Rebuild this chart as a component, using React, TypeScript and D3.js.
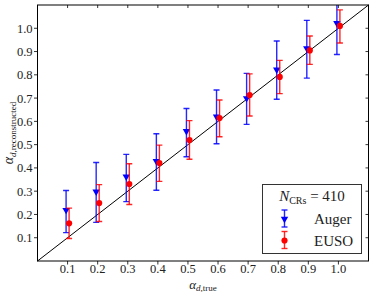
import { scaleLinear, symbol, symbolTriangle, symbolCircle } from "d3"

const W = 374
const H = 292

// alpha_d,true values
const trueAlpha = [0.1, 0.2, 0.3, 0.4, 0.5, 0.6, 0.7, 0.8, 0.9, 1.0]

// Auger reconstruction: central value and error bar ends
const augerMid = [0.219, 0.298, 0.362, 0.429, 0.558, 0.62, 0.699, 0.822, 0.913, 1.022]
const augerLo = [0.122, 0.166, 0.255, 0.304, 0.448, 0.504, 0.587, 0.695, 0.786, 0.887]
const augerHi = [0.303, 0.423, 0.458, 0.547, 0.655, 0.735, 0.806, 0.945, 1.034, 1.16]

// EUSO reconstruction
const eusoMid = [0.162, 0.249, 0.331, 0.421, 0.52, 0.614, 0.713, 0.791, 0.905, 1.01]
const eusoLo = [0.097, 0.17, 0.243, 0.342, 0.437, 0.534, 0.623, 0.719, 0.845, 0.937]
const eusoHi = [0.227, 0.328, 0.418, 0.498, 0.603, 0.692, 0.804, 0.862, 0.967, 1.079]

const tickValues = [0.1, 0.2, 0.3, 0.4, 0.5, 0.6, 0.7, 0.8, 0.9, 1.0]
const nCRs = 410

const FONT = "Liberation Serif, DejaVu Serif, serif"
const BLUE = "#0000ff"
const RED = "#ff0000"

const margin = { left: 37.5, right: 5.5, top: 5, bottom: 31 }

export default function App() {
  const x = scaleLinear().domain([0, 1.1]).range([margin.left, W - margin.right])
  const y = scaleLinear().domain([0, 1.1]).range([H - margin.bottom, margin.top])
  const [x0, x1] = x.range()
  const [y0, y1] = [y(0), y(1.1)]

  const tri = symbol(symbolTriangle, 24)()!
  const dot = symbol(symbolCircle, 30)()!

  const series = [
    { mid: augerMid, lo: augerLo, hi: augerHi, color: BLUE, dx: -0.005, marker: "tri" },
    { mid: eusoMid, lo: eusoLo, hi: eusoHi, color: RED, dx: 0.005, marker: "dot" },
  ]

  const cap = 3
  const txt = { fontFamily: FONT }

  return (
    <svg
      width={W}
      height={H}
      style={{ position: "absolute", left: 0, top: 0, background: "#fff", fontFamily: FONT }}
    >
      <defs>
        <clipPath id="plot">
          <rect x={x0} y={y1} width={x1 - x0} height={y0 - y1} />
        </clipPath>
      </defs>

      {/* diagonal */}
      <line x1={x(0)} y1={y(0)} x2={x(1.1)} y2={y(1.1)} stroke="#000" strokeWidth={1} />

      {/* error bars and markers */}
      <g clipPath="url(#plot)">
        {series.map((s, si) =>
          trueAlpha.map((a, i) => {
            const cx = x(a + s.dx)
            return (
              <g key={`${si}-${i}`}>
                <g stroke={s.color} strokeWidth={1.4} strokeOpacity={0.85}>
                  <line x1={cx} x2={cx} y1={y(s.lo[i])} y2={y(s.hi[i])} />
                  <line x1={cx - cap} x2={cx + cap} y1={y(s.lo[i])} y2={y(s.lo[i])} />
                  <line x1={cx - cap} x2={cx + cap} y1={y(s.hi[i])} y2={y(s.hi[i])} />
                </g>
                <path
                  d={s.marker === "tri" ? tri : dot}
                  transform={`translate(${cx},${y(s.mid[i])})${s.marker === "tri" ? " rotate(180)" : ""}`}
                  fill={s.color}
                />
              </g>
            )
          })
        )}
      </g>

      {/* frame */}
      <rect x={x0} y={y1} width={x1 - x0} height={y0 - y1} fill="none" stroke="#000" strokeWidth={1} />

      {/* ticks */}
      <g stroke="#000" strokeWidth={0.8}>
        {tickValues.map((t) => (
          <g key={t}>
            <line x1={x(t)} x2={x(t)} y1={y0} y2={y0 + 3.5} />
            <line x1={x(t)} x2={x(t)} y1={y1} y2={y1 + 3} />
            <line x1={x0} x2={x0 - 3.5} y1={y(t)} y2={y(t)} />
            <line x1={x1} x2={x1 - 3} y1={y(t)} y2={y(t)} />
          </g>
        ))}
      </g>

      {/* tick labels */}
      <g fontSize={12.5} fill="#222" style={txt}>
        {tickValues.map((t) => (
          <text key={`x${t}`} x={x(t)} y={y0 + 12} textAnchor="middle">
            {t.toFixed(1)}
          </text>
        ))}
        {tickValues.map((t) => (
          <text key={`y${t}`} x={x0 - 5} y={y(t) + 4.5} textAnchor="end">
            {t.toFixed(1)}
          </text>
        ))}
      </g>

      {/* axis labels */}
      <text x={(x0 + x1) / 2} y={288.5} textAnchor="middle" fill="#222" style={txt}>
        <tspan fontSize={13} fontStyle="italic">α</tspan>
        <tspan fontSize={9} dy={2.5}>
          <tspan fontStyle="italic">d</tspan>,true
        </tspan>
      </text>
      <text
        transform={`translate(13,${(y0 + y1) / 2}) rotate(-90)`}
        textAnchor="middle"
        fill="#222"
        style={txt}
      >
        <tspan fontSize={14} fontStyle="italic">α</tspan>
        <tspan fontSize={9} dy={3}>
          <tspan fontStyle="italic">d</tspan>,reconstructed
        </tspan>
      </text>

      {/* legend */}
      <g style={txt}>
        <rect x={262.5} y={184.5} width={99} height={69} fill="#fff" stroke="#333" strokeWidth={1} />
        <text x={312} y={201} textAnchor="middle" fontSize={15} fill="#222">
          <tspan fontStyle="italic">N</tspan>
          <tspan fontSize={10} dy={3}>CRs</tspan>
          <tspan dy={-3}> = {nCRs}</tspan>
        </text>
        {series.map((s, si) => {
          const cy = si === 0 ? 219 : 240.5
          const lx = 284.5
          return (
            <g key={si}>
              <g stroke={s.color} strokeWidth={1.4} strokeOpacity={0.85}>
                <line x1={lx} x2={lx} y1={cy - 9} y2={cy + 8} />
                <line x1={lx - cap} x2={lx + cap} y1={cy - 9} y2={cy - 9} />
                <line x1={lx - cap} x2={lx + cap} y1={cy + 8} y2={cy + 8} />
              </g>
              <path
                d={s.marker === "tri" ? tri : dot}
                transform={`translate(${lx},${cy})${s.marker === "tri" ? " rotate(180)" : ""}`}
                fill={s.color}
              />
              <text x={314} y={cy + 5} fontSize={15} fill="#222">
                {si === 0 ? "Auger" : "EUSO"}
              </text>
            </g>
          )
        })}
      </g>
    </svg>
  )
}
